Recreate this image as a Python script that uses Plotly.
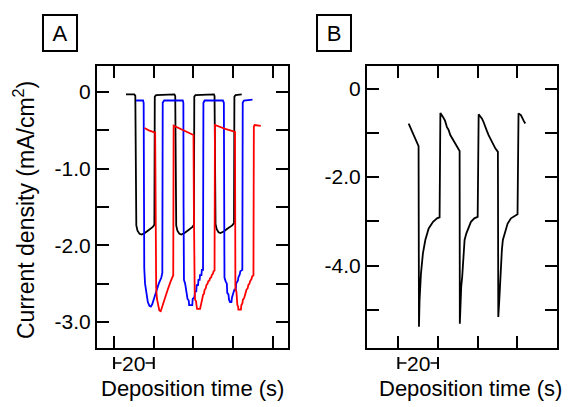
import plotly.graph_objects as go

# ---- data ----
# panel A: three pulsed-deposition current transients
black_t = [6.0, 10.2, 10.7, 10.8, 10.9, 11.2, 11.8, 12.8, 13.9, 15.5, 17.5, 19.5, 20.3, 20.5, 21.2,
           30.4, 30.8, 30.9, 31.0, 31.3, 31.9, 32.9, 33.9, 35.5, 37.5, 39.5, 40.2, 40.4, 41.0,
           50.3, 50.6, 50.7, 50.8, 51.1, 51.7, 52.6, 53.6, 55.2, 57.2, 59.5, 60.4, 60.6, 61.2, 64.3]
black_j = [-0.03, -0.03, -0.05, -0.6, -1.60, -1.74, -1.81, -1.85, -1.86, -1.84, -1.80, -1.76, -1.73, -0.06, -0.04,
           -0.03, -0.05, -0.6, -1.60, -1.74, -1.81, -1.85, -1.86, -1.84, -1.80, -1.76, -1.73, -0.06, -0.04,
           -0.03, -0.05, -0.6, -1.58, -1.72, -1.79, -1.83, -1.84, -1.82, -1.78, -1.74, -1.71, -0.06, -0.04, -0.03]

blue_t = [11.1, 14.6, 14.9, 15.0, 15.2, 15.6, 16.2, 17.0, 17.8, 18.5, 19.2, 20.2, 21.3, 22.5, 23.8, 24.3, 24.5, 25.2,
          34.6, 34.9, 35.0, 35.2, 35.8, 36.2, 36.6, 37.0, 37.6, 37.8, 39.4, 39.6, 40.4, 40.8, 41.4, 41.6, 42.3, 42.5,
          43.1, 43.3, 44.0, 44.2, 44.8, 45.0, 45.6,
          54.8, 55.3, 55.4, 55.6, 56.2, 56.8, 57.0, 57.6, 57.9, 58.4, 59.1, 59.4, 60.1, 60.6, 61.3, 61.5, 62.4, 62.6,
          63.3, 63.6, 64.6, 64.8, 65.4, 69.7]
blue_j = [-0.11, -0.11, -0.14, -1.2, -2.30, -2.50, -2.64, -2.74, -2.79, -2.80, -2.77, -2.68, -2.58, -2.50, -2.42, -2.36, -0.14, -0.11,
          -0.11, -0.14, -1.5, -2.45, -2.50, -2.58, -2.60, -2.70, -2.72, -2.78, -2.78, -2.70, -2.68, -2.60, -2.60, -2.52, -2.52, -2.45,
          -2.45, -2.39, -2.39, -2.32, -2.32, -0.14, -0.11,
          -0.11, -0.14, -1.5, -2.42, -2.47, -2.50, -2.62, -2.64, -2.71, -2.74, -2.74, -2.68, -2.62, -2.58, -2.58, -2.50, -2.46, -2.42,
          -2.38, -2.34, -2.32, -0.14, -0.11, -0.10]

red_t = [15.3, 17.5, 20.7, 20.8, 20.9, 21.2, 21.6, 22.2, 22.8, 23.5, 24.2, 25.5, 27.0, 28.5, 29.8, 30.0, 32.5, 35.0, 37.5,
         40.0, 40.2, 40.3, 40.6, 40.8, 41.3, 41.5, 41.8, 43.3, 43.6, 44.0, 44.4, 44.8, 45.3, 45.6, 46.2, 46.5, 47.1,
         47.4, 48.0, 48.3, 48.9, 49.2, 49.8, 50.1, 50.6, 50.8, 53.5, 56.0, 58.5,
         60.9, 61.0, 61.1, 61.6, 61.8, 62.0, 62.1, 62.5, 62.6, 63.9, 64.1, 64.6, 64.9, 65.5, 65.8, 66.4, 66.7, 67.3,
         67.6, 68.2, 68.5, 69.2, 69.5, 70.2, 70.4, 70.8, 73.9]
red_j = [-0.47, -0.50, -0.53, -1.5, -2.30, -2.55, -2.70, -2.80, -2.85, -2.86, -2.80, -2.70, -2.58, -2.47, -2.39, -0.44, -0.47, -0.50, -0.53,
         -0.56, -1.5, -2.55, -2.60, -2.71, -2.73, -2.78, -2.83, -2.83, -2.78, -2.72, -2.70, -2.65, -2.63, -2.58, -2.56, -2.52, -2.50,
         -2.47, -2.46, -2.43, -2.42, -2.39, -2.37, -2.34, -2.33, -0.43, -0.46, -0.48, -0.50,
         -0.52, -1.5, -2.58, -2.60, -2.71, -2.74, -2.78, -2.80, -2.84, -2.84, -2.78, -2.76, -2.71, -2.69, -2.65, -2.62, -2.58, -2.56,
         -2.52, -2.50, -2.47, -2.44, -2.41, -2.39, -0.45, -0.43, -0.44]

# panel B: single transient
b_t = [5.2, 9.7, 10.2, 10.4, 10.7, 11.4, 12.4, 13.6, 15.3, 17.5, 19.5, 20.8, 21.2,
       22.5, 23.5, 24.5, 25.3, 26.2, 27.0, 27.9, 28.9, 29.9, 30.9,
       31.0, 31.2, 31.7, 32.2, 32.9, 33.4, 34.3, 35.4, 36.6, 38.3, 40.0, 40.5,
       42.2, 43.0, 43.8, 44.6, 45.5, 46.3, 47.2, 48.0, 48.9, 50.2,
       50.4, 50.9, 51.4, 52.2, 52.7, 53.9, 55.1, 56.8, 58.9, 60.1, 60.6, 61.8, 63.1, 64.0]
b_j = [-0.79, -1.28, -1.30, -5.38, -4.78, -4.18, -3.72, -3.42, -3.16, -3.01, -2.93, -2.91, -0.55,
       -0.64, -0.72, -0.87, -0.93, -1.05, -1.11, -1.21, -1.27, -1.35, -1.41,
       -5.31, -4.93, -4.48, -4.25, -3.80, -3.42, -3.27, -3.12, -3.01, -2.93, -2.90, -0.58,
       -0.68, -0.76, -0.87, -0.95, -1.05, -1.12, -1.21, -1.27, -1.35, -1.43,
       -5.16, -4.78, -4.18, -3.65, -3.42, -3.20, -3.05, -2.93, -2.86, -2.84, -0.56, -0.60, -0.72, -0.79]

a_xticks = [0, 20, 40, 60, 80]
b_xticks = [0, 20, 40, 60]
a_yticks = [0, -1.0, -2.0, -3.0]
a_ylabels = ["0", "-1.0", "-2.0", "-3.0"]
a_yminor = [-0.5, -1.5, -2.5]
b_yticks = [0, -2, -4]
b_ylabels = ["0", "-2.0", "-4.0"]
b_yminor = [-1, -3, -5]
scale_bar = [0, 20]

W, H = 569, 407
FONT = "Liberation Sans, Arial, Helvetica, sans-serif"


def px_x(p):
    return p / W


def px_y(p):
    return 1 - p / H


fig = go.Figure()
fig.add_trace(go.Scatter(x=black_t, y=black_j, mode="lines", line=dict(color="black", width=1.8),
                         xaxis="x", yaxis="y"))
fig.add_trace(go.Scatter(x=blue_t, y=blue_j, mode="lines", line=dict(color="#0000ff", width=1.8),
                         xaxis="x", yaxis="y"))
fig.add_trace(go.Scatter(x=red_t, y=red_j, mode="lines", line=dict(color="#ff0000", width=1.8),
                         xaxis="x", yaxis="y"))
fig.add_trace(go.Scatter(x=b_t, y=b_j, mode="lines", line=dict(color="black", width=1.8),
                         xaxis="x2", yaxis="y2"))

frame = dict(showline=True, linecolor="black", linewidth=2, mirror="allticks",
             ticks="inside", ticklen=12, tickwidth=2, tickcolor="black",
             showgrid=False, zeroline=False, automargin=False,
             tickfont=dict(family=FONT, size=21, color="black"))
minor = dict(ticks="inside", ticklen=12, tickwidth=2, tickcolor="black", showgrid=False)

fig.update_layout(
    width=W, height=H,
    margin=dict(l=0, r=0, t=0, b=0, autoexpand=False),
    plot_bgcolor="white", paper_bgcolor="white",
    showlegend=False,
    xaxis=dict(frame, domain=[px_x(97), px_x(288)], range=[-8.6, 87.6],
               tickvals=a_xticks, showticklabels=False, anchor="y"),
    yaxis=dict(frame, domain=[px_y(348), px_y(66)], range=[-3.34, 0.34],
               tickvals=a_yticks, ticktext=a_ylabels, anchor="x",
               minor=dict(minor, tickvals=a_yminor)),
    xaxis2=dict(frame, domain=[px_x(367), px_x(557)], range=[-15.8, 80],
                tickvals=b_xticks, showticklabels=False, anchor="y2"),
    yaxis2=dict(frame, domain=[px_y(348), px_y(66)], range=[-5.86, 0.51],
                tickvals=b_yticks, ticktext=b_ylabels, anchor="x2",
                minor=dict(minor, tickvals=b_yminor)),
)

# axis titles
for xc in (192, 470):
    fig.add_annotation(x=px_x(xc), y=px_y(388), xref="paper", yref="paper",
                       xanchor="center", yanchor="middle",
                       text="Deposition time (s)", showarrow=False,
                       font=dict(family=FONT, size=22, color="black"))
fig.add_annotation(x=px_x(24), y=px_y(210), xref="paper", yref="paper",
                   xanchor="center", yanchor="middle",
                   text="Current density (mA/cm<sup>2</sup>)", textangle=-90, showarrow=False,
                   font=dict(family=FONT, size=23, color="black"))

# panel letters
for letter, xc in (("A", 60), ("B", 334)):
    fig.add_annotation(x=px_x(xc), y=px_y(33), xref="paper", yref="paper",
                       xanchor="center", yanchor="middle",
                       text=letter, showarrow=False, width=30, height=32,
                       bordercolor="black", borderwidth=2, borderpad=1, bgcolor="white",
                       font=dict(family=FONT, size=22, color="black"))

# 20 s scale bars
for xr in ("x", "x2"):
    fig.add_shape(type="line", xref=xr, yref="paper", x0=scale_bar[0], x1=scale_bar[1],
                  y0=px_y(363), y1=px_y(363), line=dict(color="black", width=1.5))
    for xv in scale_bar:
        fig.add_shape(type="line", xref=xr, yref="paper", x0=xv, x1=xv,
                      y0=px_y(357), y1=px_y(369), line=dict(color="black", width=2))
    fig.add_annotation(x=sum(scale_bar) / 2, y=px_y(363), xref=xr, yref="paper",
                       xanchor="center", yanchor="middle",
                       text="20", showarrow=False, bgcolor="white", borderpad=0,
                       font=dict(family=FONT, size=21, color="black"))

fig.write_html("out.html", config={"displayModeBar": False},
               post_script="document.body.style.margin='0px';")
